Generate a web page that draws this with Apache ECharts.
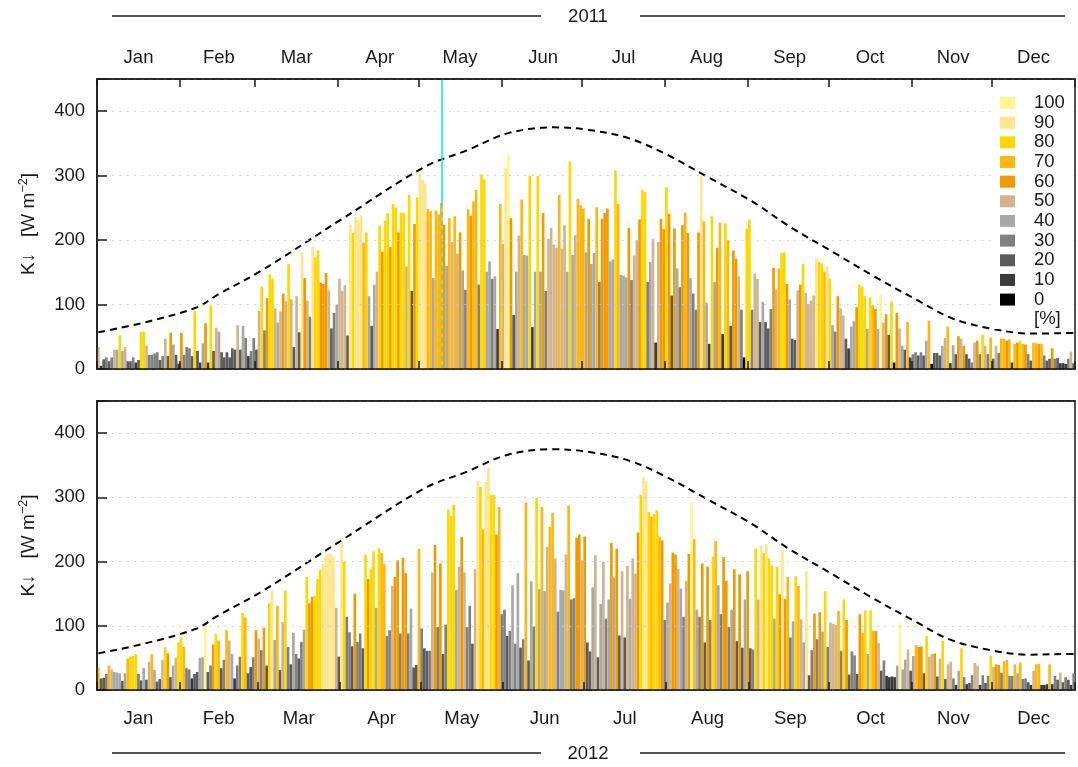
<!DOCTYPE html>
<html><head><meta charset="utf-8">
<script src="https://cdn.jsdelivr.net/npm/echarts@6/dist/echarts.min.js"></script>
<style>html,body{margin:0;padding:0;background:#fff}#c{width:1078px;height:767px}</style>
</head><body><div id="c"></div>
<script>
const FONT = '"Liberation Sans", Arial, Helvetica, sans-serif';
const FS = 18.5;
const monthNames = ['Jan','Feb','Mar','Apr','May','Jun','Jul','Aug','Sep','Oct','Nov','Dec'];
const monthStarts2011 = [0,31,59,90,120,151,181,212,243,273,304,334];
const monthStarts2012 = [0,31,60,91,121,152,182,213,244,274,305,335];
const sunLevels = [100,90,80,70,60,50,40,30,20,10,0];
const sunColors = ['#fff48f','#ffe68a','#ffd700','#ffb70f','#f09a00','#d2b48c','#a8a8a8','#808080','#5c5c5c','#3a3a3a','#000000'];
const curveDays = [0,18,37,44,61,91,122,138,153,170,183,198,212,227,244,258,274,289,306,319,334,348,364];
const curveVals = [57,73,96,114,153,233,314,340,366,375,371,358,333,299,260,221,182,145,106,78,62,55,56];
const markDay2011 = 128;

const sw2011 = [
34,5,15,18,12,18,30,30,52,28, 34,12,12,18,10,14,58,58,36,22, 22,24,26,14,20,47,20,56,38,22,
8,56,22,34,32,20,90,28,10,40, 71,10,98,28,64,58,26,18,26,18, 32,30,68,30,67,48,20,28,48,30,
90,128,60,110,147,140,94,72,89,117, 105,163,108,34,113,57,181,141,106,81, 190,173,184,134,132,149,122,63,87,100,
140,121,130,52,224,211,236,231,239,196, 212,113,67,131,151,222,182,230,242,189, 256,251,212,243,242,159,270,121,225,266,
302,293,288,248,245,141,246,240,258,224, 160,234,197,237,179,212,153,123,248,238, 260,278,131,302,294,151,167,140,144,62,
256,194,311,333,234,84,151,207,263,177, 176,300,65,151,300,151,242,121,202,219, 193,188,270,187,223,151,322,177,208,264,
254,249,181,233,163,180,251,135,233,242, 249,167,170,308,256,146,145,142,219,138, 176,200,232,278,275,135,166,202,41,197,
233,217,282,241,114,218,156,127,223,243, 211,141,117,92,212,300,229,103,39,237, 135,188,227,54,226,200,67,184,171,144,
92,18,218,232,92,148,140,73,104,73, 63,93,157,123,156,180,181,132,108,47, 45,122,131,163,118,101,106,114,172,166,
164,151,159,140,68,58,113,94,83,47, 32,66,74,96,131,127,113,62,111,99, 93,62,115,72,85,53,105,10,87,63,
36,30,73,18,23,26,21,26,21,44, 75,8,25,25,21,36,48,66,9,37, 23,51,47,36,23,16,10,41,44,23,
53,36,23,49,16,36,25,47,47,44, 46,10,39,41,44,39,38,23,13,41, 40,39,39,21,13,16,32,16,17,9,
9,8,16,27,9];
const sun2011 = [
50,10,20,30,20,30,50,40,80,40, 50,20,20,30,10,20,80,80,50,30, 30,30,30,20,30,50,20,60,40,20,
10,60,30,30,30,20,80,20,10,40, 60,10,80,20,50,40,20,20,20,20, 20,20,50,20,40,30,10,30,30,20,
50,80,30,60,80,80,50,40,50,60, 50,80,50,20,50,20,90,60,50,30, 90,80,80,60,60,60,50,20,30,40,
50,50,50,20,90,80,90,90,90,70, 80,40,20,40,50,80,60,80,80,60, 80,80,60,80,80,50,80,20,60,80,
90,90,90,70,70,40,70,70,70,60, 40,70,50,70,50,60,40,30,70,60, 70,70,30,80,80,40,40,30,40,10,
70,50,90,100,60,20,40,50,70,40, 40,80,10,40,80,40,60,30,50,50, 50,50,70,50,50,40,80,40,50,70,
70,70,40,60,40,40,70,30,60,60, 60,40,40,80,70,40,40,40,60,30, 50,50,60,80,80,30,40,50,10,50,
60,60,80,60,20,60,40,30,60,70, 60,40,30,30,60,90,70,40,10,80, 40,60,70,10,80,70,20,60,60,50,
30,0,80,80,30,50,50,20,40,20, 20,30,60,50,70,80,80,60,40,20, 20,50,60,80,50,50,50,50,90,80,
80,70,90,80,40,30,60,50,50,20, 10,40,40,60,80,80,80,40,80,70, 60,40,100,50,60,20,80,0,60,50,
40,20,70,10,30,30,20,30,20,40, 70,0,20,20,20,40,50,70,10,40, 20,60,50,60,20,20,30,50,60,30,
80,50,30,70,20,50,30,70,70,60, 70,10,70,60,80,70,60,30,20,70, 70,60,70,30,20,20,60,30,20,10,
10,10,30,50,20];
const sw2012 = [
35,18,19,25,38,32,28,27,26,14, 26,49,52,53,56,25,15,34,16,44, 56,31,13,17,47,67,57,20,38,50,
74,82,67,34,32,18,25,28,50,51, 105,28,38,71,87,77,34,47,93,77, 56,18,38,52,120,113,26,36,51,93,
80,62,97,38,135,155,78,131,31,106, 155,67,40,89,56,49,75,94,176,135, 145,146,173,187,197,208,212,212,208,128,
52,229,200,114,90,68,150,75,88,65, 211,173,189,216,128,221,213,196,84,93, 162,176,202,88,206,182,88,127,35,39,
220,96,65,61,61,183,226,98,197,56, 102,281,271,288,156,192,238,183,98,131, 72,188,326,316,250,324,346,304,304,242,
285,118,125,84,92,163,72,182,66,79, 292,46,169,99,299,157,285,154,223,254, 276,205,122,156,155,211,287,141,143,237,
242,202,239,74,60,160,210,51,134,200, 111,141,229,175,220,85,185,82,193,142, 205,181,245,304,331,325,277,270,274,280,
239,233,109,136,166,214,211,188,158,114, 170,212,292,235,125,114,197,74,192,109, 208,232,163,118,207,170,98,125,188,76,
180,66,141,185,65,63,220,141,225,213, 227,205,194,111,192,149,218,142,176,82, 107,177,162,110,74,185,23,62,119,79,
121,91,154,67,105,103,101,123,61,141, 109,24,60,54,25,118,89,124,56,124, 92,92,73,30,46,22,20,21,20,38,
104,32,47,63,30,53,70,67,68,26, 84,52,56,57,21,49,77,17,40,44, 18,8,30,65,20,9,11,23,42,38,
8,23,11,22,53,36,40,39,27,45, 47,22,22,40,26,43,17,18,12,8, 30,40,41,8,8,9,40,9,22,16,
27,12,20,16,8,26];
const sun2012 = [
70,20,20,30,70,50,40,40,40,20, 40,70,80,80,80,30,20,40,20,50, 70,40,20,20,50,80,60,20,40,50,
80,80,70,30,30,10,20,20,40,40, 100,20,30,60,80,70,20,30,70,50, 40,10,30,30,80,70,20,20,30,60,
50,30,60,20,80,90,40,70,20,50, 80,30,20,40,30,20,30,40,80,60, 60,80,80,80,90,90,90,90,90,50,
20,90,80,30,30,20,60,30,30,20, 80,60,80,80,40,80,70,70,30,30, 50,60,60,30,60,60,30,40,20,20,
70,30,20,20,30,50,60,30,60,20, 30,80,80,80,40,50,60,50,30,30, 20,50,90,80,70,90,90,80,80,60,
70,30,30,20,30,40,30,40,20,30, 70,20,40,30,80,40,70,40,50,70, 70,50,30,40,40,50,70,30,30,60,
60,50,60,20,20,40,50,20,40,50, 30,40,60,40,60,20,50,20,50,40, 50,50,60,80,90,90,80,70,80,80,
70,60,30,40,50,60,60,50,40,30, 50,60,100,70,40,30,60,20,60,30, 80,70,40,30,60,60,30,40,60,20,
60,20,40,60,20,30,80,50,90,80, 90,80,80,40,80,60,90,60,70,30, 40,80,70,50,40,90,20,30,60,30,
60,40,80,30,50,50,50,70,30,80, 60,20,30,30,20,60,70,80,40,80, 70,60,50,20,30,10,10,10,10,40,
100,40,40,50,20,40,70,60,60,20, 80,50,50,60,20,50,80,20,50,50, 30,10,40,80,30,10,20,30,50,50,
10,30,20,30,80,50,60,60,30,70, 70,30,30,70,40,70,30,30,20,10, 50,70,70,10,10,10,70,10,30,20,
50,20,30,20,10,30];

function colorOf(s){ return sunColors[sunLevels.indexOf(s)]; }
function days(n){ const a=[]; for(let i=0;i<n;i++) a.push(i); return a; }
function midMap(starts, n){
  const m = {};
  starts.forEach((s,i)=>{ const e = i<11 ? starts[i+1] : n; m[s + Math.floor((e-s)/2)] = monthNames[i]; });
  return m;
}
const mid2011 = midMap(monthStarts2011, sw2011.length);
const mid2012 = midMap(monthStarts2012, sw2012.length);

const TXT = '#1a1a1a';
function xAx(grid, n, starts, mids, pos, showLabel, margin, showTicks){
  return {
    type:'category', gridIndex:grid, data:days(n), position:pos, boundaryGap:true, z:10,
    axisLine:{show:true, onZero:false, lineStyle:{color:TXT, width:1.5}},
    axisTick:{show:showTicks, inside:true, length:8, lineStyle:{color:TXT, width:1.5},
      interval:(i)=>starts.indexOf(i)>=0},
    axisLabel:{show:showLabel, interval:(i)=>mids[i]!==undefined, formatter:(v,i)=>mids[i]||'',
      fontSize:FS, color:TXT, fontFamily:FONT, margin:margin},
    splitLine:{show:false}
  };
}
function yAx(grid){
  return {
    type:'value', gridIndex:grid, min:0, max:450, interval:100, z:10,
    name:'K\u2193   [W m{sup|\u22122}]', nameLocation:'middle', nameGap:57, nameRotate:90,
    nameTextStyle:{fontSize:19, color:TXT, fontFamily:FONT,
      rich:{sup:{fontSize:12.5, fontFamily:FONT, color:TXT, padding:[0,0,10,0]}}},
    axisLine:{show:true, onZero:false, lineStyle:{color:TXT, width:1.5}},
    axisTick:{show:true, inside:true, length:10, lineStyle:{color:TXT, width:1.5}},
    axisLabel:{fontSize:FS, color:TXT, fontFamily:FONT, margin:12, formatter:(v)=> v>400?'':String(v)},
    splitLine:{show:true, lineStyle:{color:'#c8c8c8', width:1.2, type:[1.5,6]}}
  };
}
function barSeries(xi, yi, sw, sun){
  return {type:'bar', xAxisIndex:xi, yAxisIndex:yi, barCategoryGap:'0%', z:2,
    data: sw.map((v,i)=>({value:v, itemStyle:{color:colorOf(sun[i])}}))};
}
function curveSeries(xi, yi, n){
  const pts = curveDays.map((d,i)=>[Math.min(d, n-1), curveVals[i]]);
  if (n > 365) pts.push([n-1, curveVals[curveVals.length-1]]);
  return {type:'line', xAxisIndex:xi, yAxisIndex:yi, data:pts, smooth:0.35, symbol:'none', z:3,
    lineStyle:{color:'#000', width:2, type:[7,5]}};
}

const graphics = [];
graphics.push({type:'rect', shape:{x:994, y:91, width:79, height:238}, style:{fill:'#fff'}, z:100});
sunLevels.forEach((s,i)=>{
  graphics.push({type:'rect', shape:{x:1000, y:97+i*19.66, width:15, height:12}, style:{fill:sunColors[i]}, z:101});
  graphics.push({type:'text', x:1034, y:103+i*19.66, style:{text:String(s), font:FS+'px '+FONT, fill:TXT, align:'left', verticalAlign:'middle'}, z:101});
});
graphics.push({type:'text', x:1034, y:103+11*19.66, style:{text:'[%]', font:FS+'px '+FONT, fill:TXT, align:'left', verticalAlign:'middle'}, z:101});
[[16,'2011'],[753,'2012']].forEach(([y,t])=>{
  graphics.push({type:'line', shape:{x1:112,y1:y,x2:541,y2:y}, style:{stroke:TXT, lineWidth:1.5}});
  graphics.push({type:'line', shape:{x1:640,y1:y,x2:1065,y2:y}, style:{stroke:TXT, lineWidth:1.5}});
  graphics.push({type:'text', x:588, y:y+1, style:{text:t, font:FS+'px '+FONT, fill:TXT, align:'center', verticalAlign:'middle'}});
});

const bar2011 = barSeries(0,0,sw2011,sun2011);
const mv = sw2011[markDay2011];
bar2011.markLine = {silent:true, symbol:['none','none'], animation:false, label:{show:false},
  data:[
    [{coord:[markDay2011,450], lineStyle:{color:'#00e5ee', width:1.5, type:'solid'}},{coord:[markDay2011,mv]}],
    [{coord:[markDay2011,mv], lineStyle:{color:'#2fd6c6', width:1.5, type:[5,4]}},{coord:[markDay2011,0]}]
  ]};

const chart = echarts.init(document.getElementById('c'), null, {renderer:'canvas'});
chart.setOption({
  animation:false,
  backgroundColor:'#fff',
  grid:[
    {left:97, top:79, width:978, height:290, show:true, borderColor:TXT, borderWidth:1.5, backgroundColor:'transparent'},
    {left:97, top:401, width:978, height:289, show:true, borderColor:TXT, borderWidth:1.5, backgroundColor:'transparent'}
  ],
  xAxis:[
    xAx(0, sw2011.length, monthStarts2011, mid2011, 'top', true, 12, true),
    xAx(0, sw2011.length, monthStarts2011, mid2011, 'bottom', false, 10, true),
    xAx(1, sw2012.length, monthStarts2012, mid2012, 'bottom', true, 19, true),
    xAx(1, sw2012.length, monthStarts2012, mid2012, 'top', false, 10, false)
  ],
  yAxis:[yAx(0), yAx(1)],
  series:[
    bar2011,
    curveSeries(0,0,sw2011.length),
    barSeries(2,1,sw2012,sun2012),
    curveSeries(2,1,sw2012.length)
  ],
  graphic:graphics
});
</script></body></html>
